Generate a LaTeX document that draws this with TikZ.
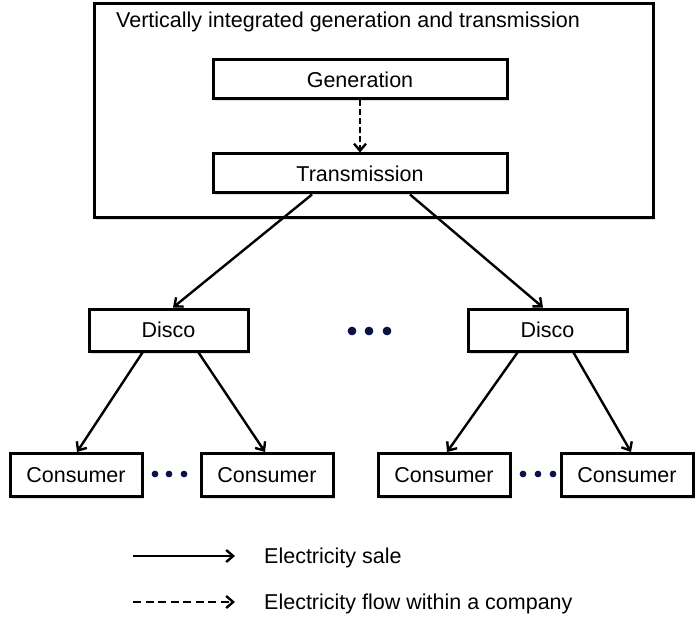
\documentclass[tikz,border=0pt]{standalone}
\usepackage{fontspec}
\setmainfont{Liberation Sans}
\usepackage{tikz}
\usetikzlibrary{arrows.meta,shadows}
\definecolor{dotblue}{rgb}{0.05,0.08,0.2}

\begin{document}
\begin{tikzpicture}[x=1pt,y=-1pt,
  every node/.style={font=\fontsize{21.5}{25}\selectfont},
  box/.style={draw,line width=3pt,fill=white,inner sep=0pt,
    drop shadow={shadow xshift=1.5pt,shadow yshift=-2.5pt,opacity=0.25}},
  sale/.style={line width=2.4pt,-{Straight Barb[length=7pt,width=12pt,line width=2.4pt]}},
  flow/.style={sale,dash pattern=on 8pt off 4.5pt},
  innerflow/.style={sale,dash pattern=on 6pt off 3pt},
  dot/.style={fill=dotblue,draw=blue!40!black,line width=0.6pt}]
\useasboundingbox (0,0) rectangle (695,617);
%\draw[step=50pt,lightgray,very thin] (0,0) grid (695,617);

% company
\node[box,minimum width=559pt,minimum height=214pt] (vig) at (373.5,111) {};
\node[anchor=base west,inner sep=0pt] (vigtitle) at (116,28) {Vertically integrated generation and transmission};
\node[box,minimum width=294pt,minimum height=39pt] (gen) at (360,79.5) {Generation};
\node[box,minimum width=294pt,minimum height=39pt] (trans) at (360,173.5) {Transmission};

% distribution companies
\node[box,minimum width=159pt,minimum height=42pt] (discoL) at (168.5,330) {Disco};
\node[box,minimum width=159pt,minimum height=42pt] (discoR) at (547.5,330) {Disco};

% consumers
\node[box,minimum width=132pt,minimum height=43pt] (consA) at (76,475) {Consumer};
\node[box,minimum width=132pt,minimum height=43pt] (consB) at (267,475) {Consumer};
\node[box,minimum width=132pt,minimum height=43pt] (consC) at (444,475) {Consumer};
\node[box,minimum width=132pt,minimum height=43pt] (consD) at (627,475) {Consumer};

% dots
\foreach \x in {352,369,387} \fill[dot] (\x,331) circle (4pt);
\foreach \x in {155,169,184,523,538,553} \fill[dot] (\x,474) circle (3pt);

% connectors
\draw[innerflow] (gen.south) -- (trans.north);
\draw[sale] ([xshift=-48pt]trans.south) -- ([xshift=4.5pt]discoL.north);
\draw[sale] ([xshift=50pt]trans.south) -- ([xshift=-4.5pt]discoR.north);
\draw[sale] ([xshift=-26pt]discoL.south) -- ([xshift=1pt]consA.north);
\draw[sale] ([xshift=30pt]discoL.south) -- ([xshift=-2pt]consB.north);
\draw[sale] ([xshift=-30pt]discoR.south) -- ([xshift=3pt]consC.north);
\draw[sale] ([xshift=26pt]discoR.south) -- ([xshift=4pt]consD.north);

% legend
\coordinate (saleA) at (133,556);
\coordinate (saleB) at (235,556);
\coordinate (flowA) at (133,602);
\coordinate (flowB) at (235,602);
\draw[sale] (saleA) -- (saleB);
\draw[flow] (flowA) -- (flowB);
\node[anchor=base west,inner sep=0pt] (saletext) at (264,563.5) {Electricity sale};
\node[anchor=base west,inner sep=0pt] (flowtext) at (264,609.5) {Electricity flow within a company};
\end{tikzpicture}
\end{document}
